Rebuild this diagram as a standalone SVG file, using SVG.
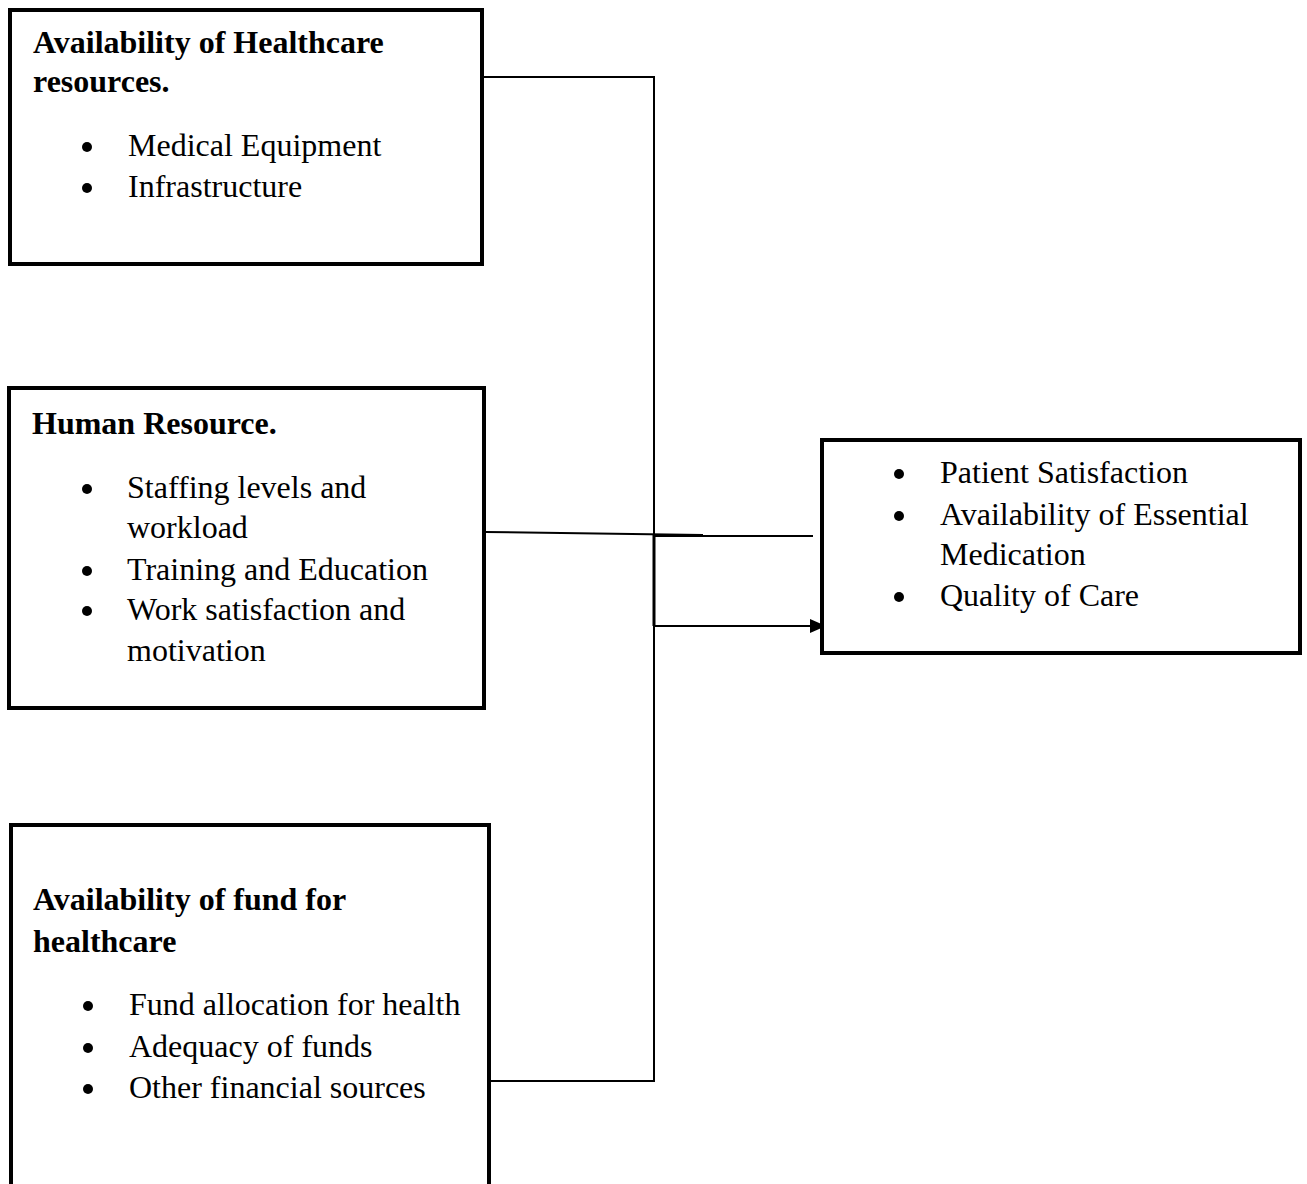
<svg xmlns="http://www.w3.org/2000/svg" width="1307" height="1184" viewBox="0 0 1307 1184">
<defs>
<style>
.box{fill:#fff;stroke:#000;stroke-width:4}
text{font-family:"Liberation Serif","Times New Roman",serif;font-size:32px;fill:#000}
.h{font-weight:bold}
.b{fill:#000}
.c{fill:none;stroke:#000;stroke-width:2}
</style>
<marker id="arr" markerWidth="16" markerHeight="16" refX="16" refY="8" orient="auto" markerUnits="userSpaceOnUse">
<path d="M0,1 L16,8 L0,15 Z" fill="#000"/>
</marker>
</defs>
<rect width="1307" height="1184" fill="#fff"/>
<g id="connectors">
<polyline class="c" points="482,77 654,77 654,1081 490,1081"/>
<line class="c" x1="485" y1="532" x2="703" y2="535"/>
<line class="c" x1="654" y1="536" x2="813" y2="536"/>
<line x1="654" y1="535" x2="654" y2="626" stroke="#000" stroke-width="3"/>
<line class="c" x1="654" y1="626" x2="826" y2="626" marker-end="url(#arr)"/>
</g>
<g id="node-healthcare-resources">
<rect class="box" x="10" y="10" width="472" height="254"/>
<text class="h" x="33" y="53">Availability of Healthcare</text>
<text class="h" x="33" y="92">resources.</text>
<circle class="b" cx="87" cy="147" r="5"/>
<text x="128" y="156">Medical Equipment</text>
<circle class="b" cx="87" cy="188" r="5"/>
<text x="128" y="197">Infrastructure</text>
</g>
<g id="node-human-resource">
<rect class="box" x="9" y="388" width="475" height="320"/>
<text class="h" x="32" y="434">Human Resource.</text>
<circle class="b" cx="87" cy="489" r="5"/>
<text x="127" y="498">Staffing levels and</text>
<text x="127" y="538">workload</text>
<circle class="b" cx="87" cy="571" r="5"/>
<text x="127" y="580">Training and Education</text>
<circle class="b" cx="87" cy="611" r="5"/>
<text x="127" y="620">Work satisfaction and</text>
<text x="127" y="661">motivation</text>
</g>
<g id="node-funds">
<rect class="box" x="11" y="825" width="478" height="380"/>
<text class="h" x="33" y="910">Availability of fund for</text>
<text class="h" x="33" y="952">healthcare</text>
<circle class="b" cx="88" cy="1006" r="5"/>
<text x="129" y="1015">Fund allocation for health</text>
<circle class="b" cx="88" cy="1048" r="5"/>
<text x="129" y="1057">Adequacy of funds</text>
<circle class="b" cx="88" cy="1089" r="5"/>
<text x="129" y="1098">Other financial sources</text>
</g>
<g id="node-outcomes">
<rect class="box" x="822" y="440" width="478" height="213"/>
<circle class="b" cx="899" cy="474" r="5"/>
<text x="940" y="483">Patient Satisfaction</text>
<circle class="b" cx="899" cy="516" r="5"/>
<text x="940" y="525">Availability of Essential</text>
<text x="940" y="565">Medication</text>
<circle class="b" cx="899" cy="597" r="5"/>
<text x="940" y="606">Quality of Care</text>
</g>
</svg>
